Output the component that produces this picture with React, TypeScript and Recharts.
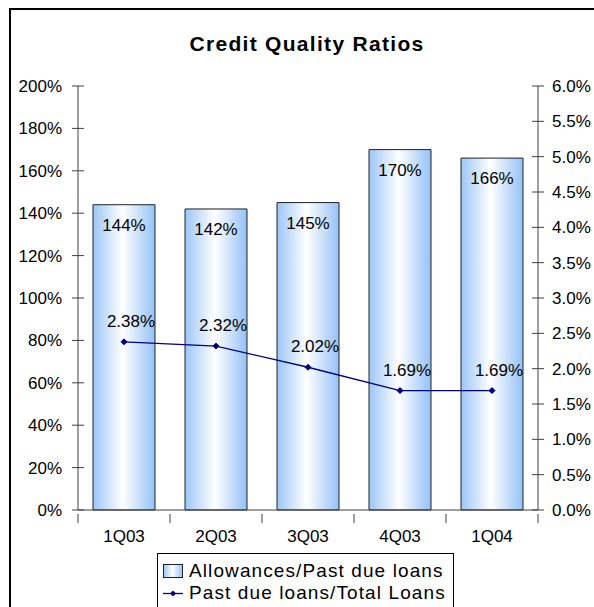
import React from "react";
import { ComposedChart, Bar, Line, XAxis, YAxis, LabelList } from "recharts";

const quarters = ["1Q03", "2Q03", "3Q03", "4Q03", "1Q04"];
const allowanceRatio = [144, 142, 145, 170, 166];
const pastDueRatio = [2.38, 2.32, 2.02, 1.69, 1.69];
const leftTicks = [0, 20, 40, 60, 80, 100, 120, 140, 160, 180, 200];
const rightTicks = [0, 0.5, 1, 1.5, 2, 2.5, 3, 3.5, 4, 4.5, 5, 5.5, 6];

const data = quarters.map((q, i) => ({
  q,
  allow: allowanceRatio[i],
  pastDue: pastDueRatio[i],
}));

const FONT = '"Liberation Sans", Arial, sans-serif';
const AXIS = "#404040";
const NAVY = "#000080";
const BAND = 460 / quarters.length;

function LeftTick(props: any) {
  const { x, y, payload } = props;
  return (
    <g>
      <line x1={x - 6} x2={x + 6} y1={y} y2={y} stroke={AXIS} />
      <text x={x - 16} y={y} dy={6} textAnchor="end" fontSize={17} fontFamily={FONT} fill="#000">
        {`${payload.value}%`}
      </text>
    </g>
  );
}

function RightTick(props: any) {
  const { x, y, payload } = props;
  return (
    <g>
      <line x1={x - 6} x2={x + 6} y1={y} y2={y} stroke={AXIS} />
      <text x={x + 14} y={y} dy={6} textAnchor="start" fontSize={17} fontFamily={FONT} fill="#000">
        {`${Number(payload.value).toFixed(1)}%`}
      </text>
    </g>
  );
}

function CatTick(props: any) {
  const { x, y, payload, index } = props;
  const last = index === quarters.length - 1;
  return (
    <g>
      <line x1={x - BAND / 2} x2={x - BAND / 2} y1={y - 4} y2={y + 5} stroke={AXIS} />
      {last && <line x1={x + BAND / 2} x2={x + BAND / 2} y1={y - 4} y2={y + 5} stroke={AXIS} />}
      <text x={x} y={y + 18} dy={6} textAnchor="middle" fontSize={17} fontFamily={FONT} fill="#000">
        {payload.value}
      </text>
    </g>
  );
}

function Diamond(props: any) {
  const { cx, cy } = props;
  if (cx == null || cy == null) return null;
  return <path d={`M${cx},${cy - 3} L${cx + 3},${cy} L${cx},${cy + 3} L${cx - 3},${cy} Z`} fill={NAVY} stroke={NAVY} />;
}

export default function App() {
  return (
    <div
      style={{
        position: "fixed",
        left: 8,
        top: 8,
        width: 586,
        height: 599,
        overflow: "hidden",
        background: "#fff",
        fontFamily: FONT,
      }}
    >
      <div
        style={{
          position: "absolute",
          left: 1,
          top: 0,
          right: 0,
          bottom: 0,
          borderTop: "2px solid #000",
          borderLeft: "2px solid #000",
        }}
      />
      <div
        style={{
          position: "absolute",
          left: 0,
          width: 598,
          top: 24,
          textAlign: "center",
          fontWeight: "bold",
          fontSize: 21,
          letterSpacing: 1.3,
        }}
      >
        Credit Quality Ratios
      </div>
      <div style={{ position: "absolute", left: 0, top: 0 }}>
        <ComposedChart
          width={586}
          height={599}
          data={data}
          margin={{ top: 78, right: 6, left: 10, bottom: 67 }}
          barCategoryGap={15}
        >
          <defs>
            <linearGradient id="barGrad" x1="0" y1="0" x2="1" y2="0">
              <stop offset="0%" stopColor="#9cc6f8" />
              <stop offset="48%" stopColor="#ffffff" />
              <stop offset="100%" stopColor="#94c1f7" />
            </linearGradient>
          </defs>
          <XAxis
            dataKey="q"
            stroke={AXIS}
            tickLine={false}
            tick={<CatTick />}
            height={30}
            interval={0}
          />
          <YAxis
            yAxisId="left"
            domain={[0, 200]}
            ticks={leftTicks}
            width={60}
            stroke={AXIS}
            tickLine={false}
            tickMargin={0}
            tickSize={0}
            tick={<LeftTick />}
            interval={0}
          />
          <YAxis
            yAxisId="right"
            orientation="right"
            domain={[0, 6]}
            ticks={rightTicks}
            width={50}
            stroke={AXIS}
            tickLine={false}
            tickMargin={0}
            tickSize={0}
            tick={<RightTick />}
            interval={0}
          />
          <Bar yAxisId="left" dataKey="allow" barSize={62} fill="url(#barGrad)" stroke="#222" strokeWidth={1} isAnimationActive={false}>
            <LabelList
              dataKey="allow"
              position="insideTop"
              offset={14}
              formatter={(v: any) => `${v}%`}
              fill="#000"
              fontSize={17}
              fontFamily={FONT}
            />
          </Bar>
          <Line
            yAxisId="right"
            dataKey="pastDue"
            stroke={NAVY}
            strokeWidth={1.3}
            dot={<Diamond />}
            activeDot={false}
            isAnimationActive={false}
          >
            <LabelList
              dataKey="pastDue"
              position="top"
              offset={15}
              dx={7}
              formatter={(v: any) => `${Number(v).toFixed(2)}%`}
              fill="#000"
              fontSize={17}
              fontFamily={FONT}
            />
          </Line>
        </ComposedChart>
      </div>
      <div
        style={{
          position: "absolute",
          left: 149,
          top: 545,
          width: 295,
          height: 80,
          border: "1px solid #000",
          background: "#fff",
          fontSize: 19,
          letterSpacing: 1.1,
          lineHeight: "22px",
          whiteSpace: "nowrap",
        }}
      >
        <div style={{ display: "flex", alignItems: "center", marginTop: 6 }}>
          <svg width={31} height={22} style={{ flexShrink: 0 }}>
            <rect x={5.5} y={4.5} width={19} height={13} fill="url(#barGrad)" stroke="#222" />
          </svg>
          <span>Allowances/Past due loans</span>
        </div>
        <div style={{ display: "flex", alignItems: "center" }}>
          <svg width={31} height={22} style={{ flexShrink: 0 }}>
            <line x1={5} x2={25} y1={11.5} y2={11.5} stroke={NAVY} strokeWidth={1.3} />
            <path d="M15,8.5 L18,11.5 L15,14.5 L12,11.5 Z" fill={NAVY} />
          </svg>
          <span>Past due loans/Total Loans</span>
        </div>
      </div>
    </div>
  );
}
